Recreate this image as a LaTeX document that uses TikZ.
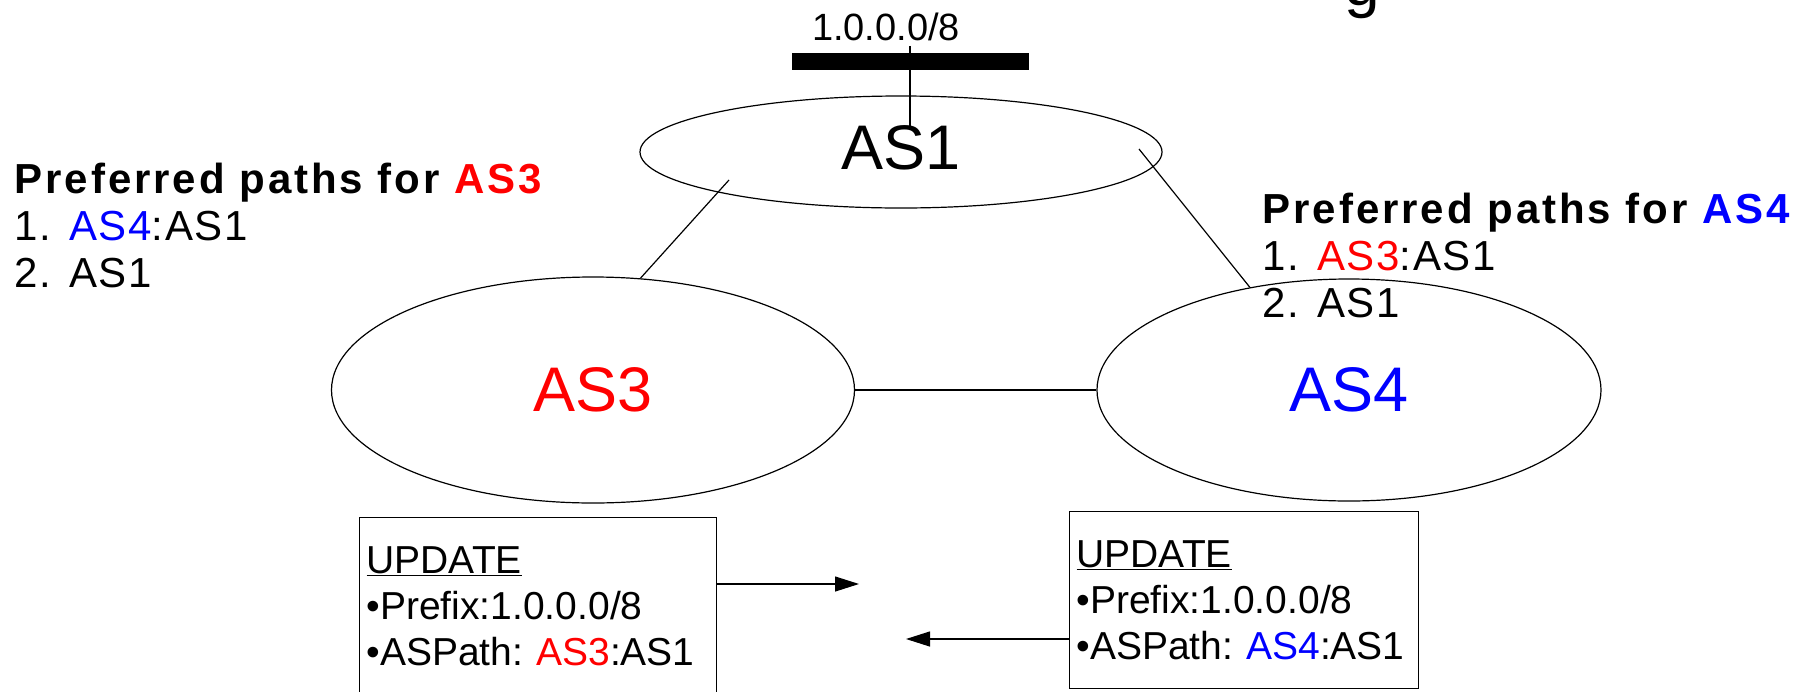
\documentclass[tikz,border=0pt]{standalone}
\usepackage{fontspec}
\setmainfont{Liberation Sans}
\newfontfamily\preffont[LetterSpace=4,BoldFeatures={LetterSpace=7}]{Liberation Sans}
\usepackage{tikz}
\usetikzlibrary{positioning,arrows.meta,calc,shapes.geometric}
\definecolor{asred}{RGB}{255,0,0}
\definecolor{asblue}{RGB}{0,0,255}

\begin{document}
\begin{tikzpicture}[x=1pt,y=-1pt,line width=1.2pt,>={Triangle[length=24pt,width=15pt]},
   as/.style={draw,ellipse,inner sep=0pt,font=\fontsize{63}{70}\selectfont},
   pref/.style={align=left,inner sep=0pt,anchor=north west,font=\preffont\fontsize{42}{47}\selectfont},
   msg/.style={draw,align=left,anchor=north west,inner xsep=7pt,inner ysep=29pt,font=\fontsize{39}{46}\selectfont}]
  \useasboundingbox (0,0) rectangle (1799,691);
  \node[anchor=base,font=\fontsize{64}{70}\selectfont] (ttl) at (1362,5) {g};
  \node[anchor=base,font=\fontsize{38}{44}\selectfont] (pfx) at (886,40) {1.0.0.0/8};
  \node[fill=black,inner sep=0pt,minimum width=237pt,minimum height=17pt] (lan) at (910,61) {};
  \node[as,minimum width=522pt,minimum height=112pt,text height=35pt,text depth=0pt] (as1) at (901,152) {AS1};
  \node[as,minimum width=523pt,minimum height=226pt,text=asred] (as3) at (593,390) {AS3};
  \node[as,minimum width=504pt,minimum height=222pt,text=asblue] (as4) at (1349,390) {AS4};
  \draw ($(lan.north)+(0,-6)$) -- ($(as1.center)+(9,-25)$);
  \draw ($(as1.center)+(-172,28)$) -- (as3.67);
  \draw ($(as1.center)+(238,-3)$) -- (as4.134);
  \draw (as3) -- (as4);
  % preferences of the two ASes
  \node[pref] (pr3) at (14,162) {\textbf{Preferred paths for \textcolor{asred}{AS3}}\\1. \textcolor{asblue}{AS4}:AS1\\2. AS1};
  \node[pref] (pr4) at (1262,192) {\textbf{Preferred paths for \textcolor{asblue}{AS4}}\\1. \textcolor{asred}{AS3}:AS1\\2. AS1};
  % update messages
  \node[msg,text width=343pt] (up3) at (359,517) {\underline{UPDATE}\\•Prefix:1.0.0.0/8\\•ASPath:\ \textcolor{asred}{AS3}:AS1};
  \node[msg,text width=335pt] (up4) at (1069,511) {\underline{UPDATE}\\•Prefix:1.0.0.0/8\\•ASPath:\ \textcolor{asblue}{AS4}:AS1};
  \coordinate (to4) at (859,584);
  \coordinate (to3) at (906,639);
  \draw[->] (up3.east |- to4) -- (to4);
  \draw[->] (up4.west |- to3) -- (to3);
\end{tikzpicture}
\end{document}
